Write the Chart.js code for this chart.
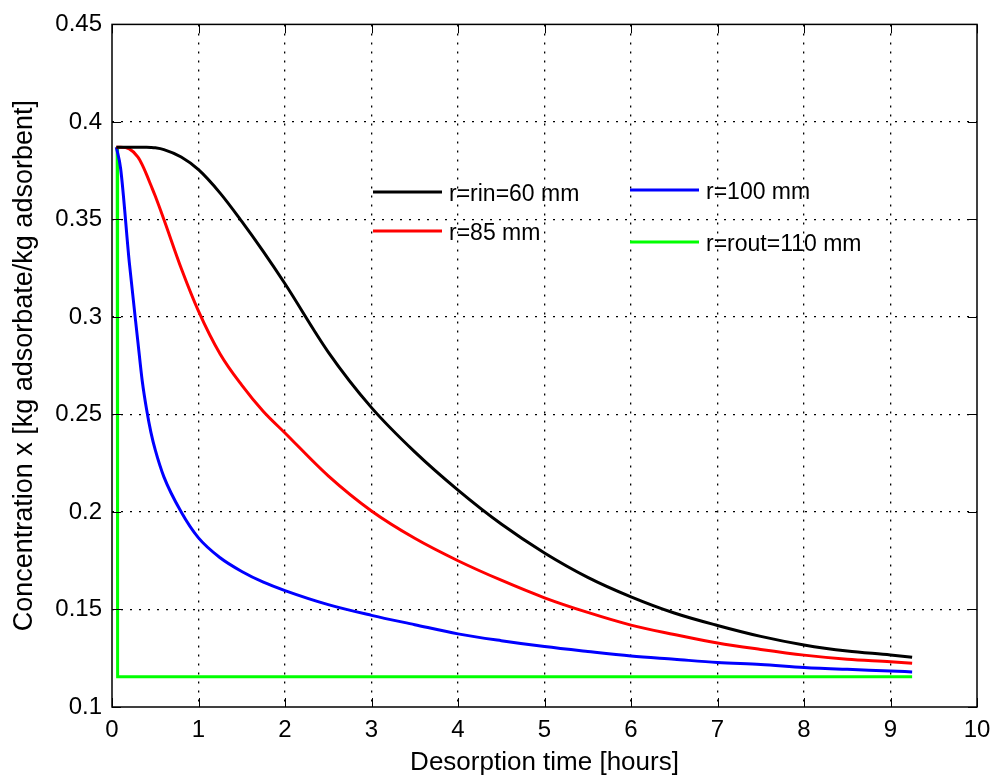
<!DOCTYPE html>
<html>
<head>
<meta charset="utf-8">
<script src="https://cdn.jsdelivr.net/npm/chart.js@4.4.1/dist/chart.umd.min.js"></script>
<style>
  html, body { margin: 0; padding: 0; background: #fff; }
  #wrap { width: 1000px; height: 778px; }
</style>
</head>
<body>
<div id="wrap"><canvas id="chart" width="1000" height="778"></canvas></div>
<script>
const xTicks = [0, 1, 2, 3, 4, 5, 6, 7, 8, 9, 10];
const yTicks = [0.1, 0.15, 0.2, 0.25, 0.3, 0.35, 0.4, 0.45];

const time = [0.05, 0.1, 0.2, 0.3, 0.35, 0.4, 0.45, 0.5, 0.6, 0.8, 1.0, 1.25, 1.5, 1.75, 2.0, 2.5, 3.0, 3.5, 4.0, 4.5, 5.0, 5.5, 6.0, 6.5, 7.0, 7.5, 8.0, 8.5, 9.0, 9.25];
const xRin60 = [0.387, 0.387, 0.387, 0.387, 0.387, 0.387, 0.3869, 0.3867, 0.3858, 0.382, 0.3755, 0.3635, 0.349, 0.3335, 0.317, 0.282, 0.2535, 0.2308, 0.2112, 0.1938, 0.179, 0.1665, 0.1565, 0.1482, 0.1418, 0.1362, 0.1318, 0.1287, 0.1267, 0.1255];
const x85 = [0.387, 0.387, 0.3862, 0.382, 0.378, 0.373, 0.3675, 0.362, 0.35, 0.325, 0.303, 0.281, 0.265, 0.2515, 0.2405, 0.2185, 0.2005, 0.1865, 0.175, 0.165, 0.156, 0.1485, 0.142, 0.1372, 0.1328, 0.1295, 0.1266, 0.1245, 0.1232, 0.1224];
const x100 = [0.387, 0.376, 0.328, 0.287, 0.267, 0.2525, 0.2408, 0.2318, 0.218, 0.2, 0.1867, 0.1765, 0.1695, 0.164, 0.1597, 0.1525, 0.147, 0.1422, 0.1375, 0.134, 0.131, 0.1285, 0.1262, 0.1245, 0.1228, 0.1218, 0.1203, 0.1193, 0.1185, 0.118];

const timeOut = [0.06, 0.065, 9.25];
const xRout110 = [0.387, 0.1155, 0.1155];

const FONT = "'Liberation Sans', Arial, sans-serif";

function pts(t, v) {
  return t.map((x, i) => ({ x: x, y: v[i] }));
}

function series(label, color, t, v, smooth) {
  return {
    label: label,
    data: pts(t, v),
    borderColor: color,
    backgroundColor: color,
    borderWidth: 3,
    pointRadius: 0,
    fill: false,
    cubicInterpolationMode: smooth ? "monotone" : "default",
    tension: 0
  };
}

// legend drawn inside the axes, matlab style, no box
const legendPlugin = {
  id: "matlabLegend",
  afterDatasetsDraw(chart) {
    const ctx = chart.ctx;
    const ds = chart.data.datasets;
    const spots = [
      { x: 373, y: 192 },
      { x: 373, y: 231 },
      { x: 630, y: 190 },
      { x: 630, y: 242 }
    ];
    ctx.save();
    ctx.font = "23px " + FONT;
    ctx.textBaseline = "middle";
    ctx.textAlign = "left";
    ds.forEach((d, i) => {
      const s = spots[i];
      ctx.strokeStyle = d.borderColor;
      ctx.lineWidth = 3;
      ctx.beginPath();
      ctx.moveTo(s.x, s.y);
      ctx.lineTo(s.x + 69, s.y);
      ctx.stroke();
      ctx.fillStyle = "#000";
      ctx.fillText(d.label, s.x + 76, s.y + 3);
    });
    ctx.restore();
  }
};

// box around the axes and ticks pointing inward on all four sides
const framePlugin = {
  id: "frame",
  afterDraw(chart) {
    const ctx = chart.ctx;
    const a = chart.chartArea;
    const xs = chart.scales.x, ys = chart.scales.y;
    ctx.save();
    ctx.strokeStyle = "#000";
    ctx.lineWidth = 1.5;
    ctx.strokeRect(a.left, a.top, a.right - a.left, a.bottom - a.top);
    ctx.lineWidth = 1;
    ctx.beginPath();
    xTicks.forEach(v => {
      const px = Math.round(xs.getPixelForValue(v)) + 0.5;
      ctx.moveTo(px, a.bottom); ctx.lineTo(px, a.bottom - 9);
      ctx.moveTo(px, a.top); ctx.lineTo(px, a.top + 9);
    });
    yTicks.forEach(v => {
      const py = Math.round(ys.getPixelForValue(v)) + 0.5;
      ctx.moveTo(a.left, py); ctx.lineTo(a.left + 9, py);
      ctx.moveTo(a.right, py); ctx.lineTo(a.right - 9, py);
    });
    ctx.stroke();
    ctx.restore();
  }
};

function gridColor(list) {
  return c => {
    const v = c.tick ? c.tick.value : null;
    if (v === null) return "#000";
    if (Math.abs(v - list[0]) < 1e-9 || Math.abs(v - list[list.length - 1]) < 1e-9) return "rgba(0,0,0,0)";
    return "#000";
  };
}

new Chart(document.getElementById("chart"), {
  type: "line",
  data: {
    datasets: [
      series("r=rin=60 mm", "#000000", time, xRin60, true),
      series("r=85 mm", "#ff0000", time, x85, true),
      series("r=100 mm", "#0000ff", time, x100, true),
      series("r=rout=110 mm", "#00ff00", timeOut, xRout110, false)
    ]
  },
  options: {
    responsive: false,
    animation: false,
    layout: { padding: { top: 21, right: 23, left: 0, bottom: 0 } },
    plugins: { legend: { display: false }, tooltip: { enabled: false } },
    scales: {
      x: {
        type: "linear",
        min: 0,
        max: 10,
        afterBuildTicks: s => { s.ticks = xTicks.map(v => ({ value: v })); },
        afterFit: s => { s.height = 71; },
        ticks: {
          color: "#000",
          font: { family: FONT, size: 24 },
          padding: 9,
          maxRotation: 0,
          callback: v => String(v)
        },
        grid: { color: gridColor(xTicks), lineWidth: 1.3, drawTicks: false },
        border: { display: false, dash: [2, 7] },
        title: {
          display: true,
          text: "Desorption time [hours]",
          color: "#000",
          font: { family: FONT, size: 26 },
          padding: { top: 0, bottom: 0 }
        }
      },
      y: {
        type: "linear",
        min: 0.1,
        max: 0.45,
        afterBuildTicks: s => { s.ticks = yTicks.map(v => ({ value: v })); },
        afterFit: s => { s.width = 112; },
        ticks: {
          color: "#000",
          font: { family: FONT, size: 24 },
          padding: 10,
          callback: v => String(+v.toFixed(2))
        },
        grid: { color: gridColor(yTicks), lineWidth: 1.3, drawTicks: false },
        border: { display: false, dash: [2, 7] },
        title: {
          display: true,
          text: "Concentration x [kg adsorbate/kg adsorbent]",
          color: "#000",
          font: { family: FONT, size: 27 },
          padding: { top: 8, bottom: 0 }
        }
      }
    }
  },
  plugins: [legendPlugin, framePlugin]
});
</script>
</body>
</html>
